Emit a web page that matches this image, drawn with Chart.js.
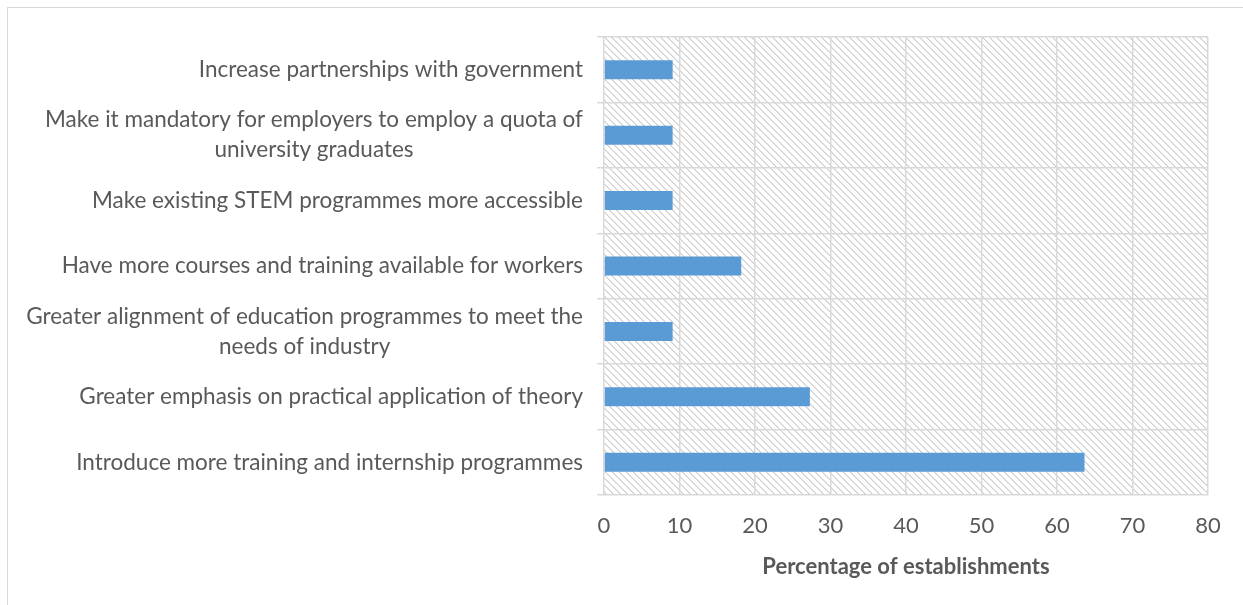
<!DOCTYPE html>
<html><head><meta charset="utf-8">
<script src="https://cdn.jsdelivr.net/npm/chart.js@4.4.1/dist/chart.umd.min.js"></script>
<style>
html,body{margin:0;padding:0;background:#fff;overflow:hidden}
#frame{position:absolute;left:7px;top:7px;width:1300px;height:700px;border:1.5px solid #d9d9d9;box-sizing:border-box}
#wrap{position:absolute;left:0;top:0;width:1243px;height:605px}
</style></head><body>
<div id="frame"></div>
<div id="wrap"><canvas id="c"></canvas></div>
<script>
const categories = [
  ["Increase partnerships with government"],
  ["Make it mandatory for employers to employ a quota of", "university graduates"],
  ["Make existing STEM programmes more accessible"],
  ["Have more courses and training available for workers"],
  ["Greater alignment of education programmes to meet the", "needs of industry"],
  ["Greater emphasis on practical application of theory"],
  ["Introduce more training and internship programmes"]
];
const values = [9.09, 9.09, 9.09, 18.18, 9.09, 27.27, 63.64];
const xMin = 0, xMax = 80, xStep = 10;
const xTitle = "Percentage of establishments";

const FONT = "Lato";
const TXT = "#595959";
const GRID = "#d9d9d9";

function makePattern() {
  const n = 7;
  const t = document.createElement('canvas');
  t.width = n; t.height = n;
  const g = t.getContext('2d');
  g.fillStyle = '#fff'; g.fillRect(0, 0, n, n);
  for (let i = 0; i < n; i++) {
    g.fillStyle = '#cdcdcd';
    g.fillRect(i, i, 1, 1);
    g.fillStyle = '#e6e6e6';
    g.fillRect((i + 1) % n, i, 1, 1);
  }
  return document.getElementById('c').getContext('2d').createPattern(t, 'repeat');
}

const hatchPlugin = {
  id: 'hatch',
  beforeDraw(chart) {
    const {ctx, chartArea: a} = chart;
    ctx.save();
    ctx.fillStyle = makePattern();
    ctx.fillRect(a.left, a.top, a.right - a.left, a.bottom - a.top);
    ctx.restore();
  }
};

const labelPlugin = {
  id: 'catLabels',
  afterDraw(chart) {
    const {ctx} = chart;
    const ys = chart.scales.y;
    const right = chart.chartArea.left - 21;
    const lh = 30;
    ctx.save();
    ctx.font = "22.5px " + FONT;
    ctx.fillStyle = TXT;
    ctx.textAlign = 'center';
    ctx.textBaseline = 'middle';
    categories.forEach((lines, i) => {
      const y = ys.getPixelForValue(i);
      const w = Math.max(...lines.map(l => ctx.measureText(l).width));
      const cx = right - w / 2;
      lines.forEach((l, j) => {
        ctx.fillText(l, cx, y + (j - (lines.length - 1) / 2) * lh);
      });
    });
    ctx.restore();
  }
};

new Chart(document.getElementById('c'), {
  type: 'bar',
  data: {
    labels: categories.map(c => c.join(' ')),
    datasets: [{
      data: values,
      backgroundColor: '#5b9bd5',
      borderWidth: 0,
      categoryPercentage: 1,
      barPercentage: 0.29
    }]
  },
  options: {
    indexAxis: 'y',
    responsive: true,
    maintainAspectRatio: false,
    animation: false,
    devicePixelRatio: 1,
    layout: {padding: {top: 37, right: 35, left: 0, bottom: 0}},
    plugins: {legend: {display: false}, tooltip: {enabled: false}},
    scales: {
      y: {
        ticks: {display: false},
        grid: {color: GRID, lineWidth: 1.5, tickLength: 7, offset: true},
        border: {display: false},
        afterFit(s) { s.width = 604; }
      },
      x: {
        min: xMin, max: xMax,
        ticks: {stepSize: xStep, color: TXT, font: {family: FONT, size: 22}, padding: 18},
        grid: {color: GRID, lineWidth: 1.5, drawTicks: false},
        border: {display: false},
        title: {display: true, text: xTitle, color: TXT, font: {family: FONT, size: 22, weight: 'bold'}, padding: {top: 0, bottom: 25}},
        afterFit(s) { s.height = 110; }
      }
    }
  },
  plugins: [hatchPlugin, labelPlugin]
});
</script>
</body></html>
